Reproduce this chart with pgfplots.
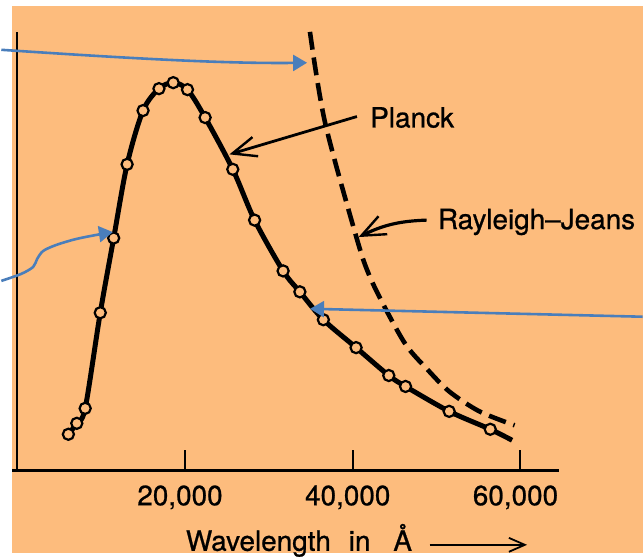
\documentclass[border=0pt]{standalone}
\usepackage{pgfplots}
\pgfplotsset{compat=1.18}
\usepackage{pgfplotstable}
\usepackage{fontspec}
\setmainfont{TeX Gyre Heros}
\newfontfamily\medfont{TeX Gyre Heros}[FakeBold=0.8,Ligatures=TeX]
\usetikzlibrary{arrows.meta}
\definecolor{bgorange}{RGB}{253,188,125}
\definecolor{connblue}{RGB}{74,126,187}
\newcommand{\lbl}{\medfont\fontsize{14}{16}\selectfont}

\pgfplotstableread{
x y
6100 36
7100 47
8100 62
9900 158
11500 233
13100 307
15000 361
16900 383
18600 389
20300 382
22400 354
25700 302
28300 251
31700 200
33700 179
36500 151
40400 123
44300 95
46300 84
51500 59
56400 41
}\planckpts

\pgfplotstableread{
x y
6100 36
7100 47
8100 62
9900 158
11500 233
13100 307
15000 361
16900 383
18600 389
20300 382
22400 354
25700 302
28300 251
31700 200
33700 179
36500 151
40400 123
44300 95
46300 84
51500 59
56400 41
59000 30
}\planckline

\pgfplotstableread{
x y
34900 440
36700 349
40500 232
42000 195
44100 159
46400 125
48800 102
51500 79
55100 59
59300 45
}\rjline

\begin{document}
\begin{tikzpicture}
\begin{scope}[x=0.5pt,y=-0.5pt]
\useasboundingbox (0,0) rectangle (644,555);
\fill[white] (0,0) rectangle (644,555);
\fill[bgorange] (11,6) rectangle (644,555);
\end{scope}
\begin{axis}[
  at={(8pt,-236pt)}, anchor=south west,
  scale only axis, width=272pt, height=220pt,
  xmin=0, xmax=64600, ymin=0, ymax=440,
  axis x line*=bottom, axis y line*=left, separate axis lines,
  x axis line style={-, line width=1.5pt, shorten <=-2.5pt},
  y axis line style={-, line width=1.2pt},
  xtick={20000,40000,60000},
  xticklabels={{20,000},{40,000},{60,000}},
  scaled x ticks=false,
  ytick=\empty,
  tick align=inside, major tick length=10pt,
  xtick style={line width=1pt, black},
  xticklabel style={font=\lbl, anchor=north, inner sep=0pt, yshift=-7.5pt, xshift=-2.5pt},
  xlabel={Wavelength\hspace{9pt}in\hspace{11.5pt}Å},
  x label style={font=\lbl, at={(rel axis cs:0.3107,-0.184)}, anchor=base west, inner sep=0pt},
  clip=false,
]
\addplot[black, line width=2.5pt, smooth, tension=0.5] table {\planckline};
\addplot[only marks, mark=*, mark size=2.8pt, mark options={fill=bgorange, draw=black, line width=1.1pt}] table {\planckpts};
\addplot[black, line width=2.3pt, dash pattern=on 9pt off 4pt, smooth] table {\rjline};

\draw[line width=1.4pt, -{Straight Barb[length=12pt,width=10pt,line width=1.2pt]}] (axis cs:40500,355) -- (axis cs:25300,317);
\node[anchor=base west, inner sep=0pt, font=\lbl] at (axis cs:42043,344) {Planck};
\draw[line width=1.6pt, -{Straight Barb[length=12pt,width=10pt,line width=1.2pt]}] (axis cs:48812,251) to[bend right=12] (axis cs:40700,234);
\node[anchor=base west, inner sep=0pt, font=\lbl] at (axis cs:50119,242) {Rayleigh–Jeans};
\draw[line width=0.9pt, -{Straight Barb[length=8pt,width=7pt]}] (rel axis cs:0.761,-0.1705) -- (rel axis cs:0.941,-0.1705);
\end{axis}
\begin{scope}[x=0.5pt,y=-0.5pt]
\draw[connblue, line width=1.3pt, -{Triangle[length=7pt,width=8pt]}] (0,50) .. controls (120,58) and (220,64) .. (307,63);
\draw[connblue, line width=1.3pt, -{Triangle[length=7pt,width=8pt]}] plot[smooth] coordinates {(0,282) (20,275) (32,268) (36,260) (42,252) (55,246) (75,240) (100,235) (112,233)};
\draw[connblue, line width=1.3pt, -{Triangle[length=7pt,width=8pt]}] (644,318) -- (310,310);
\end{scope}
\end{tikzpicture}
\end{document}
